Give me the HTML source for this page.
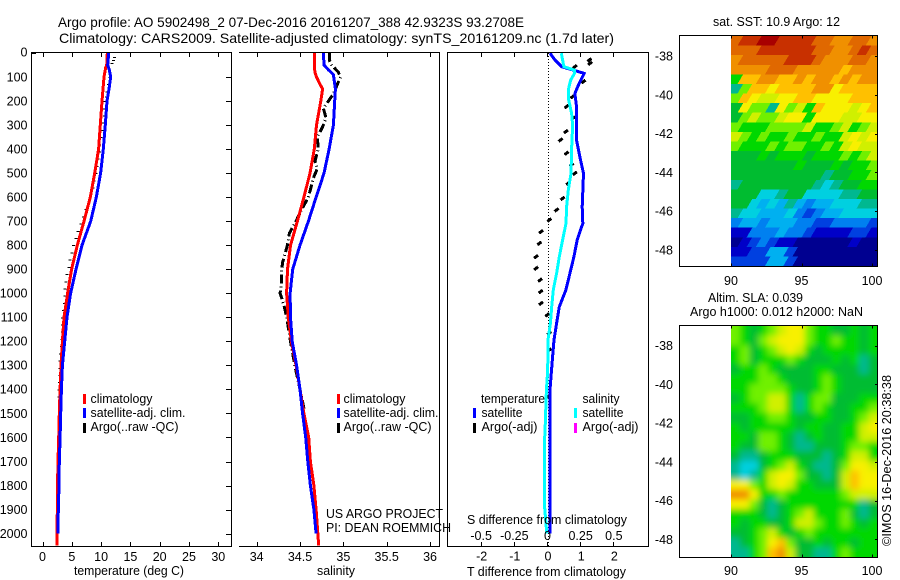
<!DOCTYPE html>
<html lang="en">
<head>
<meta charset="utf-8">
<title>Argo profile 5902498_2</title>
<style>
  html, body { margin: 0; padding: 0; background: #fff; }
  #chart { display: block; width: 900px; height: 580px; }
  text { font-family: "Liberation Sans", sans-serif; font-size: 12.5px; fill: #000; }
  .title { font-size: 14px; }
</style>
</head>
<body>
<svg id="chart" xmlns="http://www.w3.org/2000/svg" width="900" height="580" viewBox="0 0 900 580">
  <rect x="0" y="0" width="900" height="580" fill="#fff"/>

  <text class="title" x="58" y="27" textLength="466" lengthAdjust="spacingAndGlyphs">Argo profile: AO 5902498_2 07-Dec-2016 20161207_388 42.9323S 93.2708E</text>
  <text class="title" x="59" y="43" textLength="555" lengthAdjust="spacingAndGlyphs">Climatology: CARS2009. Satellite-adjusted climatology: synTS_20161209.nc (1.7d later)</text>

  <defs>
    <clipPath id="clip-temp"><rect x="32" y="53" width="199" height="493"/></clipPath>
    <clipPath id="clip-sal"><rect x="240" y="53" width="199" height="493"/></clipPath>
    <clipPath id="clip-diff"><rect x="448" y="53" width="200" height="493"/></clipPath>
    <clipPath id="clip-sst"><rect x="731" y="36" width="146" height="230"/></clipPath>
    <clipPath id="clip-sla"><rect x="731" y="326" width="146" height="231"/></clipPath>
    <filter id="sla-blur" x="-10%" y="-10%" width="120%" height="120%"><feGaussianBlur stdDeviation="3.2"/></filter>
  </defs>

  <g id="temp-panel"></g>
  <g id="sal-panel"></g>
  <g id="diff-panel"></g>
  <g id="sst-panel"></g>
  <g id="sla-panel"></g>

  <text x="74" y="575" textLength="110" lengthAdjust="spacingAndGlyphs">temperature (deg C)</text>
  <text x="317" y="575" textLength="38" lengthAdjust="spacingAndGlyphs">salinity</text>
  <text x="467" y="576" textLength="159" lengthAdjust="spacingAndGlyphs">T difference from climatology</text>
  <text x="467" y="524" textLength="160" lengthAdjust="spacingAndGlyphs">S difference from climatology</text>

  <g>
    <rect x="83" y="394" width="3" height="10" fill="#ff0000"/>
    <rect x="83" y="408" width="3" height="10" fill="#0000ff"/>
    <rect x="83" y="423" width="3" height="10" fill="#000"/>
    <text x="90.5" y="403" textLength="62" lengthAdjust="spacingAndGlyphs">climatology</text>
    <text x="90.5" y="417" textLength="95" lengthAdjust="spacingAndGlyphs">satellite-adj. clim.</text>
    <text x="90.5" y="431" textLength="88" lengthAdjust="spacingAndGlyphs">Argo(..raw -QC)</text>
  </g>
  <g>
    <rect x="337" y="394" width="3" height="10" fill="#ff0000"/>
    <rect x="337" y="408" width="3" height="10" fill="#0000ff"/>
    <rect x="337" y="423" width="3" height="10" fill="#000"/>
    <text x="343.5" y="403" textLength="62" lengthAdjust="spacingAndGlyphs">climatology</text>
    <text x="343.5" y="417" textLength="95" lengthAdjust="spacingAndGlyphs">satellite-adj. clim.</text>
    <text x="343.5" y="431" textLength="88" lengthAdjust="spacingAndGlyphs">Argo(..raw -QC)</text>
  </g>
  <g>
    <text x="481" y="403" textLength="64" lengthAdjust="spacingAndGlyphs">temperature</text>
    <rect x="473" y="408" width="3" height="10" fill="#0000ff"/>
    <rect x="473" y="423" width="3" height="10" fill="#000"/>
    <text x="481.5" y="417" textLength="41" lengthAdjust="spacingAndGlyphs">satellite</text>
    <text x="481.5" y="431" textLength="56" lengthAdjust="spacingAndGlyphs">Argo(-adj)</text>
    <text x="582.5" y="403" textLength="37" lengthAdjust="spacingAndGlyphs">salinity</text>
    <rect x="574" y="408" width="3" height="10" fill="#00ffff"/>
    <rect x="574" y="423" width="3" height="10" fill="#ff00ff"/>
    <text x="582.5" y="417" textLength="41" lengthAdjust="spacingAndGlyphs">satellite</text>
    <text x="582.5" y="431" textLength="56" lengthAdjust="spacingAndGlyphs">Argo(-adj)</text>
  </g>

  <text x="326" y="518" textLength="117" lengthAdjust="spacingAndGlyphs">US ARGO PROJECT</text>
  <text x="326" y="532" textLength="125" lengthAdjust="spacingAndGlyphs">PI: DEAN ROEMMICH</text>

  <text x="713" y="26" textLength="127" lengthAdjust="spacingAndGlyphs">sat. SST: 10.9 Argo: 12</text>
  <text x="708" y="302" textLength="95" lengthAdjust="spacingAndGlyphs">Altim. SLA: 0.039</text>
  <text x="690" y="316" textLength="173" lengthAdjust="spacingAndGlyphs">Argo h1000: 0.012 h2000: NaN</text>
  <text transform="translate(891,546) rotate(-90)" x="0" y="0" textLength="171" lengthAdjust="spacingAndGlyphs">©IMOS 16-Dec-2016 20:38:38</text>
</svg>

<script>
// ---------- Profile data ----------
const depthTicks = [0,100,200,300,400,500,600,700,800,900,1000,1100,1200,1300,1400,1500,1600,1700,1800,1900,2000];
const tempTicks = [0,5,10,15,20,25,30];
const salTicks = [34,34.5,35,35.5,36];
const salTickLabels = ['34','34.5','35','35.5','36'];
const tDiffTicks = [-2,-1,0,1,2];
const sDiffTicks = [-0.5,-0.25,0,0.25,0.5];
const sDiffTickLabels = ['-0.5','-0.25','0','0.25','0.5'];

const climTempDepth = [0,50,60,100,200,300,400,500,600,700,800,900,1000,1100,1200,1300,1400,1500,1600,1700,1800,1900,2050];
const climTemp = [11.06,10.95,10.78,10.5,10.15,9.87,9.58,8.9,8.16,7.08,5.94,4.97,4.29,3.67,3.4,3.16,3.0,2.87,2.76,2.65,2.56,2.53,2.48];

const satTempDepth = [0,50,70,100,150,200,300,400,500,600,700,800,900,1000,1100,1200,1300,1400,1500,1600,1700,1800,1900,2000];
const satTemp = [11.29,11.12,11.4,11.63,11.35,11.0,10.72,10.38,9.92,9.18,8.22,6.74,5.72,4.8,4.18,3.79,3.4,3.22,3.1,3.0,2.87,2.81,2.7,2.65];

const argoTempDepth = [16,29,42,100,130,160,180,200,230,260,290,320,350,380,410,440,470,500,530,560,590,620,650,680,710,740,770,800,830,860,890,920,950,980,1010,1040,1070,1100,1130,1160,1190,1220,1250,1280,1310,1340,1370,1400,1430];
const argoTemp = [12.3,12.1,11.9,11.5,11.3,11.0,10.9,10.6,10.6,10.6,10.3,10.3,10.0,9.7,9.7,9.5,9.3,9.1,8.8,8.6,8.2,7.9,7.4,7.0,6.6,6.1,5.7,5.3,5.0,4.7,4.5,4.2,4.05,3.85,3.85,3.75,3.55,3.45,3.4,3.4,3.3,3.2,3.1,3.0,2.95,2.95,2.9,2.8,2.8];

const climSalDepth = [0,80,100,130,150,200,300,400,500,600,700,800,900,1000,1100,1200,1300,1400,1500,1600,1700,1800,1900,2050];
const climSal = [34.665,34.67,34.69,34.73,34.76,34.74,34.69,34.665,34.615,34.545,34.47,34.39,34.355,34.345,34.365,34.40,34.455,34.5,34.545,34.6,34.62,34.66,34.685,34.715];

const satSalDepth = [0,50,70,90,150,200,300,400,500,600,700,800,900,1000,1100,1200,1300,1400,1500,1600,1700,1800,1900,2000];
const satSal = [34.77,34.777,34.827,34.885,34.908,34.9,34.885,34.835,34.777,34.685,34.596,34.5,34.415,34.385,34.39,34.41,34.46,34.5,34.53,34.565,34.59,34.62,34.66,34.685];

const argoSalDepth = [0,30,50,80,100,130,170,200,230,270,300,350,400,450,480,520,600,650,700,750,800,870,900,950,1000,1050,1100,1200,1300,1400,1480];
const argoSal = [34.838,34.838,34.865,34.942,34.969,34.931,34.885,34.827,34.77,34.8,34.77,34.7,34.71,34.673,34.7,34.654,34.596,34.52,34.454,34.377,34.354,34.3,34.288,34.288,34.27,34.315,34.346,34.39,34.44,34.5,34.546];

const diffTempDepth = [1,29,57,71,85,126,168,223,362,431,501,640,709,778,848,917,986,1056,1125,1194,1264,1347,1402,2000];
const diffTemp = [0.06,0.21,0.41,0.76,1.09,0.94,0.81,0.86,0.86,0.96,1.07,1.03,1.05,0.88,0.78,0.66,0.54,0.34,0.26,0.18,0.14,0.09,0.06,0.06];

const diffSalDepth = [1,29,57,71,85,113,154,196,251,306,362,501,570,640,709,778,848,917,986,1056,1125,1194,1264,1347,1402,1541,1638,1874,1958,2000];
const diffSal = [0.1,0.11,0.12,0.2,0.2,0.17,0.153,0.156,0.178,0.186,0.18,0.173,0.153,0.14,0.136,0.11,0.085,0.065,0.04,0.028,0.018,0,0,-0.005,-0.012,-0.02,-0.028,-0.028,-0.015,-0.01];

const diffArgoDepth = [29,43,57,119,182,223,271,327,362,417,465,501,542,605,653,695,744,792,848,896,945,993,1042,1090,1166,1236,1428];
const diffArgo = [1.25,1.27,0.81,1.07,0.74,0.56,0.76,0.54,0.38,0.56,0.71,0.81,0.61,0.44,0.26,0.04,-0.21,-0.26,-0.36,-0.36,-0.24,-0.22,-0.21,-0.02,0.04,0.04,0.02];

// ---------- Map data (colour levels) ----------
const mapLonTicks = [90,95,100];
const mapLatTicks = [-38,-40,-42,-44,-46,-48];
const sstLevels = [
  [14,15,15,16,16,15,15,15,15,14,14,13,13,14,14,13],
  [14,14,14,15,15,15,15,15,15,14,14,13,13,14,15,14],
  [13,14,14,14,14,14,15,15,15,14,13,13,13,14,14,13],
  [13,13,13,13,14,14,14,13,13,13,13,13,12,13,13,13],
  [8,12,12,13,13,12,12,13,12,13,13,12,13,12,13,13],
  [6,9,12,12,11,12,12,12,12,13,13,11,12,12,12,12],
  [9,12,11,10,10,11,11,12,12,11,11,11,11,12,12,12],
  [7,11,9,9,6,11,9,10,8,12,11,11,11,10,11,12],
  [7,9,10,9,9,10,11,11,8,11,11,11,10,10,11,11],
  [9,8,8,8,9,9,9,9,10,8,8,9,10,8,9,10],
  [10,9,8,9,8,8,9,8,8,9,8,8,10,11,10,11],
  [9,8,8,8,9,8,9,9,8,8,9,8,10,11,10,10],
  [7,7,7,8,7,8,8,8,7,8,8,8,9,8,9,10],
  [7,7,7,7,7,7,7,8,7,7,7,8,7,8,8,9],
  [7,7,7,7,7,7,7,7,7,7,6,7,7,8,8,9],
  [6,7,7,7,7,7,7,7,7,6,5,6,7,7,8,8],
  [7,7,7,5,5,6,7,7,5,5,5,5,6,6,7,7],
  [7,7,5,4,5,4,6,4,3,4,4,5,5,5,6,6],
  [6,5,5,4,4,4,5,3,2,3,4,4,5,5,5,5],
  [3,4,4,3,4,4,4,3,3,2,2,3,3,3,3,2],
  [1,1,3,3,3,4,3,3,2,1,1,1,1,2,2,1],
  [0,1,2,3,2,1,1,0,0,0,0,0,0,1,0,0],
  [1,1,2,2,4,4,2,0,0,0,0,0,0,0,0,0],
  [2,2,2,2,4,4,2,0,0,0,0,0,0,0,0,0]
];
const slaLevels = [
  [9,8,7,8,9,10,11,11,9,8,8,7,7,8,7,8],
  [9,8,7,9,10,11,11,11,9,8,8,9,8,8,7,8],
  [8,9,7,8,9,10,11,10,8,7,8,8,8,8,7,8],
  [8,9,7,8,8,8,9,8,7,7,7,8,7,8,6,7],
  [7,8,8,9,8,7,7,7,7,8,8,7,7,7,6,7],
  [8,8,8,9,9,8,7,7,7,8,9,8,7,7,7,7],
  [8,8,9,9,9,9,8,7,7,8,9,8,7,7,7,7],
  [7,8,9,9,10,10,8,6,8,9,9,7,7,7,8,8],
  [8,8,8,9,10,10,8,6,8,9,8,7,7,8,8,9],
  [7,7,8,8,9,9,8,7,7,8,8,7,7,8,9,10],
  [8,7,8,8,8,8,8,7,8,8,7,7,8,8,10,11],
  [8,8,7,9,9,8,7,6,7,8,7,7,8,8,10,10],
  [8,7,7,9,9,8,7,6,6,7,7,7,8,9,9,8],
  [7,6,6,7,8,8,8,7,7,7,6,7,8,10,10,8],
  [6,5,5,7,8,9,10,8,7,6,6,7,9,11,11,10],
  [6,5,6,8,10,11,11,9,7,7,6,7,10,12,11,11],
  [11,11,9,8,10,11,10,8,8,7,7,7,10,12,11,11],
  [13,13,11,8,8,9,8,8,8,8,8,8,9,10,10,10],
  [11,11,9,7,6,7,8,8,8,8,8,8,8,8,6,7],
  [8,8,8,7,6,7,8,9,10,8,8,8,9,7,6,7],
  [8,7,8,8,7,7,8,10,10,9,8,8,9,8,7,8],
  [7,7,8,9,10,8,7,8,9,8,8,8,8,8,8,8],
  [6,7,8,9,11,12,9,7,7,8,7,8,8,7,8,8],
  [6,6,8,9,12,13,10,7,7,6,6,8,9,8,8,8]
];
const levelColors = ['#000090','#0000c8','#0040e0','#0080f0','#00b0f0','#00d0e0','#00b890','#00bc30','#00d800','#70f000','#d0f000','#f8f000','#ffc000','#f09000','#e06800','#c83000','#a80000'];

// ---------- Helpers ----------
const SVGNS = 'http://www.w3.org/2000/svg';
function make(parent, tag, attrs, name) {
  const el = document.createElementNS(SVGNS, tag);
  for (const k in attrs) el.setAttribute(k, attrs[k]);
  
  
  parent.appendChild(el);
  return el;
}
function label(parent, x, y, str, anchor, name) {
  const el = make(parent, 'text', { x: x, y: y, 'text-anchor': anchor }, name);
  el.textContent = str;
  return el;
}
function hline(parent, x1, x2, y, name) {
  return make(parent, 'line', { x1: x1, x2: x2, y1: y, y2: y, stroke: '#000', 'stroke-width': 1, 'shape-rendering': 'crispEdges' }, name);
}
function vline(parent, x, y1, y2, name) {
  return make(parent, 'line', { x1: x, x2: x, y1: y1, y2: y2, stroke: '#000', 'stroke-width': 1, 'shape-rendering': 'crispEdges' }, name);
}
function profile(parent, xs, ds, xFn, color, width, name, dash) {
  const pts = xs.map((v, i) => xFn(v).toFixed(1) + ',' + yDepth(ds[i]).toFixed(1)).join(' ');
  const attrs = { points: pts, fill: 'none', stroke: color, 'stroke-width': width, 'shape-rendering': 'crispEdges' };
  if (dash) attrs['stroke-dasharray'] = dash;
  return make(parent, 'polyline', attrs, name);
}

// ---------- Scales ----------
const yDepth = d => 53 + d * 0.2403;
const xTemp = t => 42.5 + t * 5.86;
const xSal = s => 256.7 + (s - 34) * 86.67;
const xDT = t => 548 + t * 33.17;
const xDS = s => 548 + s * 132.68;
const xLon1 = lon => 731 + (lon - 90) * 14.1;
const ySst = lat => 56 + (-38 - lat) * 19.4;
const ySla = lat => 345.7 + (-38 - lat) * 19.36;

// ---------- Temperature panel ----------
const pT = document.getElementById('temp-panel');
const pTc = make(pT, 'g', { 'clip-path': 'url(#clip-temp)' }, 'temperature-series');
argoTemp.forEach((v, i) => {
  make(pTc, 'rect', { x: xTemp(v) - 1.5, y: yDepth(argoTempDepth[i]), width: 3, height: 1, fill: '#000', 'shape-rendering': 'crispEdges' }, 'argo-temperature-point');
});
profile(pTc, climTemp, climTempDepth, xTemp, '#ff0000', 3, 'climatology-temperature-line');
profile(pTc, satTemp, satTempDepth, xTemp, '#0000ff', 3, 'satellite-temperature-line');
hline(pT, 31.5, 231.5, 52.5, 'temperature-top-axis');
hline(pT, 31.5, 231.5, 546.5, 'temperature-bottom-axis');
vline(pT, 31.5, 52, 547, 'temperature-left-axis');
vline(pT, 231.5, 52, 547, 'temperature-right-axis');
hline(pT, 32, 36, 53.5, 'temperature-zero-tick');
depthTicks.forEach(d => {
  const y = Math.round(yDepth(d)) + 0.5;
  if (d > 0) hline(pT, 226, 231, y, 'depth-tick');
  label(pT, 27.5, yDepth(d) + 4.3 - (d === 0 ? 0.7 : 0), String(d), 'end', 'depth-tick-label');
});
tempTicks.forEach(t => {
  const x = Math.round(xTemp(t)) + 0.5;
  vline(pT, x, 53, 57, 'temperature-top-tick');
  vline(pT, x, 542, 546, 'temperature-bottom-tick');
  label(pT, xTemp(t), 561, String(t), 'middle', 'temperature-tick-label');
});

// ---------- Salinity panel ----------
const pS = document.getElementById('sal-panel');
const pSc = make(pS, 'g', { 'clip-path': 'url(#clip-sal)' }, 'salinity-series');
profile(pSc, argoSal, argoSalDepth, xSal, '#000', 3, 'argo-salinity-line', '9 3 1 3');
profile(pSc, climSal, climSalDepth, xSal, '#ff0000', 3, 'climatology-salinity-line');
profile(pSc, satSal, satSalDepth, xSal, '#0000ff', 3, 'satellite-salinity-line');
hline(pS, 239, 439.5, 52.5, 'salinity-top-axis');
hline(pS, 239, 439.5, 546.5, 'salinity-bottom-axis');
vline(pS, 439.5, 52, 547, 'salinity-right-axis');
salTicks.forEach((s, i) => {
  const x = Math.round(xSal(s)) + 0.5;
  vline(pS, x, 53, 57, 'salinity-top-tick');
  vline(pS, x, 542, 546, 'salinity-bottom-tick');
  label(pS, xSal(s), 561, salTickLabels[i], 'middle', 'salinity-tick-label');
});

// ---------- Difference panel ----------
const pD = document.getElementById('diff-panel');
const pDc = make(pD, 'g', { 'clip-path': 'url(#clip-diff)' }, 'difference-series');
make(pDc, 'line', { x1: 548.5, x2: 548.5, y1: 53, y2: 546, stroke: '#000', 'stroke-width': 1, 'stroke-dasharray': '1 2', 'shape-rendering': 'crispEdges' }, 'zero-reference-line');
diffArgo.forEach((v, i) => {
  const x = xDT(v), y = yDepth(diffArgoDepth[i]);
  make(pDc, 'line', { x1: x + 2, y1: y - 1.5, x2: x - 2, y2: y + 1.5, stroke: '#000', 'stroke-width': 3, 'shape-rendering': 'crispEdges' }, 'argo-difference-mark');
});
profile(pDc, diffTemp, diffTempDepth, xDT, '#0000ff', 3, 'satellite-temperature-difference-line');
profile(pDc, diffSal, diffSalDepth, xDS, '#00ffff', 3, 'satellite-salinity-difference-line');
hline(pD, 447.5, 648.5, 52.5, 'difference-top-axis');
hline(pD, 447.5, 648.5, 546.5, 'difference-bottom-axis');
vline(pD, 447.5, 52, 547, 'difference-left-axis');
vline(pD, 648.5, 52, 547, 'difference-right-axis');
tDiffTicks.forEach(t => {
  const x = Math.round(xDT(t)) - 0.5;
  vline(pD, x, 53, 57, 'difference-top-tick');
  vline(pD, x, 542, 546, 'difference-bottom-tick');
  label(pD, xDT(t), 560.5, String(t), 'middle', 't-difference-tick-label');
});
sDiffTicks.forEach((s, i) => {
  label(pD, xDS(s) - 0.5, 540, sDiffTickLabels[i], 'middle', 's-difference-tick-label');
});

// ---------- Maps ----------
function drawSkewedCells(group, levels, x0, y0, w, h, lean, name) {
  const rows = levels.length, cols = levels[0].length;
  const cw = w / cols, ch = h / rows;
  levels.forEach((row, r) => row.forEach((v, c) => {
    const x = x0 + c * cw - (c === 0 ? lean : 0);
    const xr = x0 + (c + 1) * cw + 0.6 + (c === cols - 1 ? lean : 0);
    const yt = y0 + r * ch, yb = yt + ch + 0.6;
    const pts = [x - lean, yb, xr - lean, yb, xr + lean, yt, x + lean, yt].map(n => n.toFixed(1));
    make(group, 'polygon', { points: pts[0] + ',' + pts[1] + ' ' + pts[2] + ',' + pts[3] + ' ' + pts[4] + ',' + pts[5] + ' ' + pts[6] + ',' + pts[7], fill: levelColors[v], 'shape-rendering': 'crispEdges' }, name);
  }));
}
function drawCells(group, levels, x0, y0, w, h, bleed, name) {
  const rows = levels.length, cols = levels[0].length;
  const cw = w / cols, ch = h / rows;
  levels.forEach((row, r) => row.forEach((v, c) => {
    let x = x0 + c * cw, y = y0 + r * ch, ww = cw + 0.5, hh = ch + 0.5;
    if (bleed) {
      if (c === 0) { x -= bleed; ww += bleed; }
      if (c === cols - 1) ww += bleed;
      if (r === 0) { y -= bleed; hh += bleed; }
      if (r === rows - 1) hh += bleed;
    }
    make(group, 'rect', { x: x, y: y, width: ww, height: hh, fill: levelColors[v], 'shape-rendering': 'crispEdges' }, name);
  }));
}
function mapFrame(p, top, bottom, yFn, xLabelY, prefix) {
  make(p, 'rect', { x: 679.5, y: top, width: 198, height: bottom - top, fill: 'none', stroke: '#000', 'stroke-width': 1, 'shape-rendering': 'crispEdges' }, prefix + '-frame');
  mapLonTicks.forEach(lon => {
    const x = Math.round(xLon1(lon)) + 0.5;
    vline(p, x, top, top + 3, prefix + '-top-tick');
    vline(p, x, bottom - 3, bottom, prefix + '-bottom-tick');
    label(p, xLon1(lon), xLabelY, String(lon), 'middle', prefix + '-longitude-label');
  });
  mapLatTicks.forEach(lat => {
    const y = Math.round(yFn(lat)) + 0.5;
    hline(p, 875, 877.5, y, prefix + '-right-tick');
    label(p, 673, yFn(lat) + 4.5, String(lat), 'end', prefix + '-latitude-label');
  });
}
const pM1 = document.getElementById('sst-panel');
const sstG = make(pM1, 'g', { 'clip-path': 'url(#clip-sst)' }, 'sst-heatmap');
drawSkewedCells(sstG, sstLevels, 731, 36, 146.5, 230, 3, 'sst-cell');
mapFrame(pM1, 35.5, 266.5, ySst, 285, 'sst-map');

const pM2 = document.getElementById('sla-panel');
const slaClip = make(pM2, 'g', { 'clip-path': 'url(#clip-sla)' }, 'sla-heatmap');
const slaG = make(slaClip, 'g', { filter: 'url(#sla-blur)' }, 'sla-cells');
drawCells(slaG, slaLevels, 731, 326, 146.5, 231, 16, 'sla-cell');
mapFrame(pM2, 325.5, 557.5, ySla, 575, 'sla-map');
</script>
</body>
</html>
